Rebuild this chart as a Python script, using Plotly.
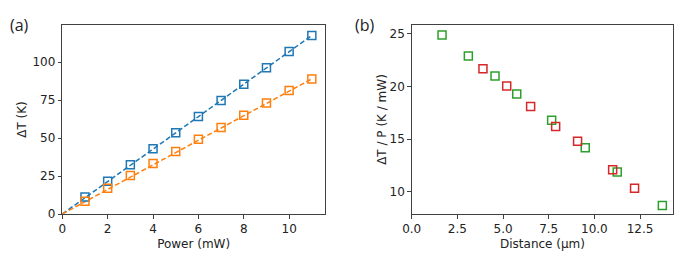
import plotly.graph_objects as go

# Panel (a)
power = [1, 2, 3, 4, 5, 6, 7, 8, 9, 10, 11]
dT_blue = [11.2, 21.6, 32.4, 43.0, 53.6, 64.2, 74.7, 85.5, 96.3, 107.0, 117.6]
dT_orange = [8.4, 16.9, 25.3, 33.2, 41.2, 49.3, 57.0, 65.1, 73.2, 81.3, 89.0]
fit_power = [0, 11]
fit_blue = [0, 117.6]
fit_orange = [0, 89.0]

# Panel (b)
dist_green = [1.66, 3.10, 4.56, 5.75, 7.66, 9.50, 11.25, 13.72]
ratio_green = [24.9, 22.9, 21.0, 19.3, 16.8, 14.2, 11.9, 8.7]
dist_red = [3.90, 5.20, 6.51, 7.88, 9.08, 11.00, 12.20]
ratio_red = [21.7, 20.05, 18.1, 16.2, 14.8, 12.1, 10.35]

BLUE = "#1f77b4"
ORANGE = "#ff7f0e"
GREEN = "#2ca02c"
RED = "#d62728"

fig = go.Figure()
mk = dict(symbol="square-open", size=8, line=dict(width=1.5))

fig.add_trace(go.Scatter(x=fit_power, y=fit_blue, mode="lines",
                         line=dict(color=BLUE, width=1.5, dash="5px,2.5px"),
                         xaxis="x", yaxis="y", showlegend=False))
fig.add_trace(go.Scatter(x=fit_power, y=fit_orange, mode="lines",
                         line=dict(color=ORANGE, width=1.5, dash="5px,2.5px"),
                         xaxis="x", yaxis="y", showlegend=False))
fig.add_trace(go.Scatter(x=power, y=dT_blue, mode="markers",
                         marker=dict(color=BLUE, **mk), xaxis="x", yaxis="y", showlegend=False))
fig.add_trace(go.Scatter(x=power, y=dT_orange, mode="markers",
                         marker=dict(color=ORANGE, **mk), xaxis="x", yaxis="y", showlegend=False))
fig.add_trace(go.Scatter(x=dist_green, y=ratio_green, mode="markers",
                         marker=dict(color=GREEN, **mk), xaxis="x2", yaxis="y2", showlegend=False))
fig.add_trace(go.Scatter(x=dist_red, y=ratio_red, mode="markers",
                         marker=dict(color=RED, **mk), xaxis="x2", yaxis="y2", showlegend=False))

FONT = "DejaVu Sans"
LC = "#404040"
ax_common = dict(showline=True, linecolor=LC, linewidth=1, mirror=True,
                 ticks="outside", ticklen=3.5, tickcolor=LC, tickwidth=1,
                 showgrid=False, zeroline=False, automargin=False,
                 tickfont=dict(family=FONT, size=12, color="#222"))

W, H = 690, 254
fig.update_layout(
    width=W, height=H,
    margin=dict(l=0, r=0, t=17, b=48),
    plot_bgcolor="white", paper_bgcolor="white",
    font=dict(family=FONT, size=12, color="#222"),
    xaxis=dict(domain=[0.0787, 0.4594], range=[0, 11.58], tickvals=[0, 2, 4, 6, 8, 10],
               title=dict(text="Power (mW)", font=dict(size=12), standoff=4),
               anchor="y", **ax_common),
    yaxis=dict(domain=[0, 1], range=[0, 124.5], tickvals=[0, 25, 50, 75, 100],
               title=dict(text="ΔT (K)", font=dict(size=12), standoff=3),
               anchor="x", **ax_common),
    xaxis2=dict(domain=[0.5851, 0.9642], range=[0, 14.32],
                tickvals=[0, 2.5, 5, 7.5, 10, 12.5], tickformat=".1f",
                title=dict(text="Distance (µm)", font=dict(size=12), standoff=4),
                anchor="y2", **ax_common),
    yaxis2=dict(domain=[0, 1], range=[7.9, 25.85], tickvals=[10, 15, 20, 25],
                title=dict(text="ΔT / P (K / mW)", font=dict(size=12), standoff=0),
                anchor="x2", **ax_common),
    annotations=[
        dict(text="(a)", x=0.0, y=1.0, xref="paper", yref="paper",
             xanchor="left", yanchor="middle", showarrow=False,
             font=dict(family="Open Sans", size=16, color="#222")),
        dict(text="(b)", x=0.5005, y=1.0, xref="paper", yref="paper",
             xanchor="left", yanchor="middle", showarrow=False,
             font=dict(family="Open Sans", size=16, color="#222")),
    ],
)

fig.write_html("out.html")
